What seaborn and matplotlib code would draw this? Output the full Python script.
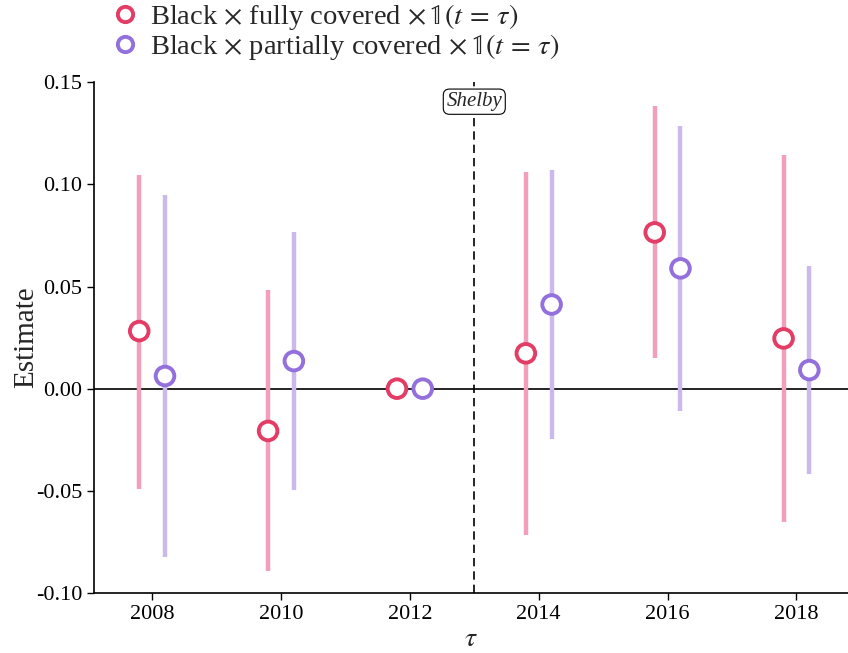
import seaborn as sns
import matplotlib.pyplot as plt
import matplotlib.ticker as mticker
import pandas as pd

years = [2008, 2010, 2012, 2014, 2016, 2018]
full_est = [0.0282, -0.0207, 0.0, 0.0173, 0.0765, 0.0246]
full_lo = [-0.0490, -0.0892, 0.0, -0.0716, 0.0148, -0.0654]
full_hi = [0.1045, 0.0482, 0.0, 0.1061, 0.1384, 0.1143]
part_est = [0.0062, 0.0135, 0.0, 0.0412, 0.0589, 0.0091]
part_lo = [-0.0824, -0.0496, 0.0, -0.0248, -0.0108, -0.0418]
part_hi = [0.0946, 0.0765, 0.0, 0.1069, 0.1286, 0.0601]

labels = [r'Black $\times$ fully covered $\times\,\mathbb{1}(t\,=\,\tau)$',
          r'Black $\times$ partially covered $\times\,\mathbb{1}(t\,=\,\tau)$']
dot_colors = ['#e33d65', '#9370db']
ci_colors = ['#f2a0b9', '#cbb9ee']
offset = 0.2

sns.set_style('white')
plt.rcParams['font.family'] = ['Liberation Serif', 'DejaVu Serif']
plt.rcParams['mathtext.fontset'] = 'stix'

df = pd.concat([
    pd.DataFrame({'year': years, 'est': full_est, 'lo': full_lo, 'hi': full_hi,
                  'group': labels[0], 'x': [y - offset for y in years]}),
    pd.DataFrame({'year': years, 'est': part_est, 'lo': part_lo, 'hi': part_hi,
                  'group': labels[1], 'x': [y + offset for y in years]}),
])

fig = plt.figure(figsize=(8.48, 6.53), dpi=100)
ax = fig.add_axes([0.111, 0.092, 0.889, 0.782])

ax.axhline(0, color='black', lw=1.2, zorder=1)
ax.axvline(2013, color='black', lw=1.2, ls=(0, (5, 3)), zorder=1)

for i, (g, sub) in enumerate(df.groupby('group', sort=False)):
    ci = sub[sub['hi'] != sub['lo']]
    ax.vlines(ci['x'], ci['lo'], ci['hi'], color=ci_colors[i], lw=3.2, zorder=2)

# open circles, edge coloured by group
sns.scatterplot(data=df, x='x', y='est', hue='group', palette=dot_colors,
                marker='o', s=180, linewidth=2.8, ax=ax, zorder=3, legend=False)
pts = ax.collections[-1]
pts.set_edgecolors([dot_colors[0]] * len(years) + [dot_colors[1]] * len(years))
pts.set_facecolors('white')

ax.text(2013, 0.1405, 'Shelby', style='italic', fontsize=15, ha='center', va='center',
        bbox=dict(boxstyle='round,pad=0.15,rounding_size=0.3', fc='white', ec='black', lw=0.8),
        zorder=4)

ax.set_xlim(2007.1, 2018.8)
ax.set_ylim(-0.10, 0.15)
ax.set_xticks(years)
ax.set_yticks([-0.10, -0.05, 0.0, 0.05, 0.10, 0.15])
ax.yaxis.set_major_formatter(mticker.FuncFormatter(lambda v, p: f'{v:.2f}'))
ax.tick_params(axis='both', labelsize=16, length=5, width=1, direction='out',
               left=True, bottom=True, colors='black')
ax.set_xlabel(r'$\tau$', fontsize=20, labelpad=2)
ax.set_ylabel('Estimate', fontsize=21, labelpad=-2)
sns.despine(ax=ax)
for s in ['left', 'bottom']:
    ax.spines[s].set_color('black')
    ax.spines[s].set_linewidth(1.2)

handles = [plt.Line2D([], [], ls='none', marker='o', ms=11, mfc='white',
                      mec=c, mew=2.8) for c in dot_colors]
fig.legend(handles, labels, loc='upper left', bbox_to_anchor=(0.115, 1.014),
           frameon=False, fontsize=20.5, handletextpad=0.35, labelspacing=0.0,
           handlelength=1.1, borderaxespad=0)

fig.savefig('out.png', dpi=100)
